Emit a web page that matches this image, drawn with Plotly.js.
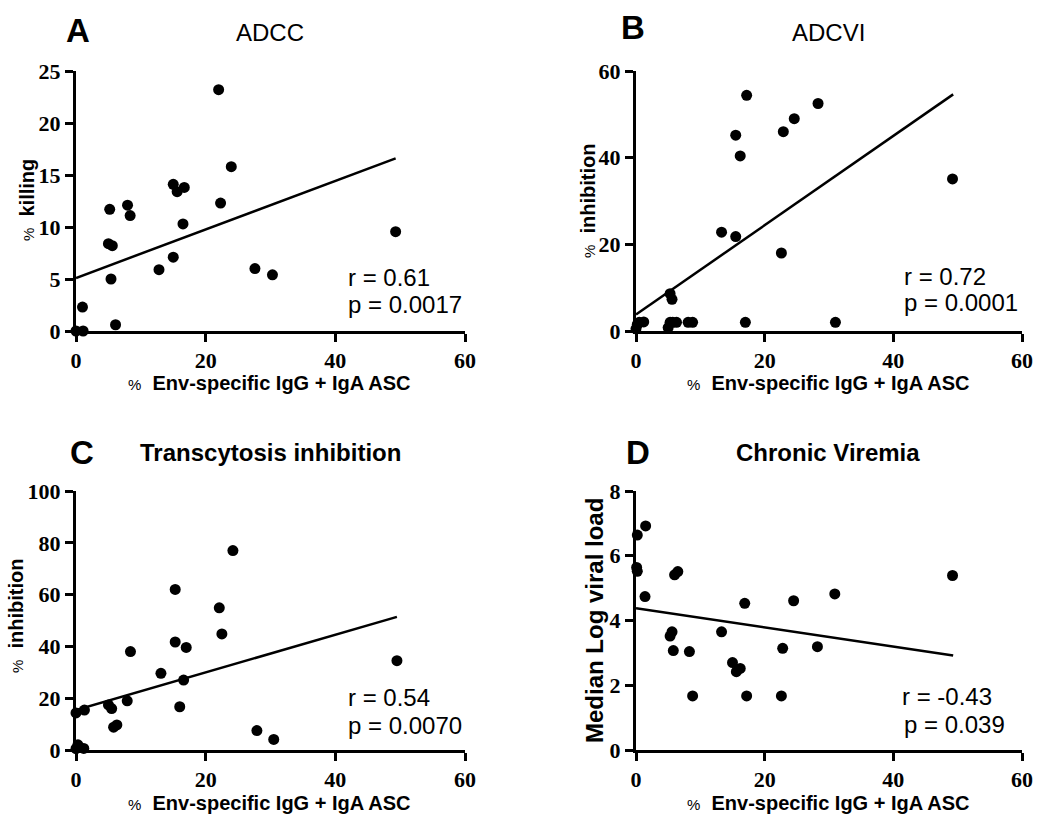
<!DOCTYPE html>
<html>
<head>
<meta charset="utf-8">
<script src="https://cdn.plot.ly/plotly-3.0.1.min.js"></script>
<style>html,body{margin:0;padding:0;background:#fff;}#chart{width:1050px;height:825px;}</style>
</head>
<body>
<div id="chart"></div>
<script>
// ---- Data ----
const adccX = [0, 1.1, 1.0, 5.0, 5.6, 5.4, 5.2, 6.1, 7.95, 8.35, 12.8, 15.0, 15.0, 15.6, 16.7, 16.5, 22.0, 22.3, 23.95, 27.6, 30.3, 49.3];
const adccY = [0, 0, 2.3, 8.4, 8.2, 5.0, 11.7, 0.6, 12.1, 11.1, 5.9, 7.1, 14.1, 13.4, 13.8, 10.3, 23.2, 12.3, 15.8, 6.0, 5.4, 9.55];
const adccFitX = [0, 49.3];
const adccFitY = [5.1, 16.6];

const adcviX = [0, 0.2, 0.5, 1.2, 5.0, 5.3, 5.7, 6.3, 8.1, 8.8, 17.0, 31.0, 5.3, 5.6, 13.3, 15.5, 22.6, 16.2, 15.5, 22.9, 24.6, 28.3, 17.2, 49.2];
const adcviY = [0.5, 1.5, 2.0, 2.1, 0.8, 2.0, 2.0, 2.0, 2.0, 2.0, 2.0, 2.0, 8.6, 7.3, 22.8, 21.8, 18.0, 40.4, 45.2, 46.0, 49.0, 52.5, 54.4, 35.1];
const adcviFitX = [0, 49.3];
const adcviFitY = [3.8, 54.6];

const transX = [0, 0.3, 1.3, 0, 1.2, 5.0, 5.5, 5.8, 6.3, 7.9, 8.4, 13.1, 15.3, 15.3, 16.0, 16.6, 17.0, 22.1, 22.5, 24.2, 27.9, 30.5, 49.5];
const transY = [14.3, 2.0, 15.4, 0.5, 0.6, 17.4, 16.0, 8.8, 9.7, 19.0, 38.0, 29.6, 41.7, 62.0, 16.7, 27.0, 39.6, 54.9, 44.8, 77.0, 7.5, 4.1, 34.5];
const transFitX = [0, 49.5];
const transFitY = [15.4, 51.4];

const viremiaX = [0.2, 1.5, 0.1, 0.2, 6.0, 6.5, 1.4, 16.9, 24.5, 30.9, 5.6, 5.3, 13.3, 5.8, 8.3, 22.8, 28.2, 15.0, 15.6, 16.2, 8.8, 17.2, 22.6, 49.2];
const viremiaY = [6.64, 6.92, 5.64, 5.52, 5.41, 5.51, 4.74, 4.53, 4.61, 4.82, 3.65, 3.52, 3.65, 3.07, 3.04, 3.14, 3.19, 2.70, 2.42, 2.52, 1.67, 1.67, 1.67, 5.39];
const viremiaFitX = [0, 49.3];
const viremiaFitY = [4.38, 2.92];

const panelLetters = ["A", "B", "C", "D"];
const panelTitles = ["ADCC", "ADCVI", "Transcytosis inhibition", "Chronic Viremia"];
const rTexts = ["r = 0.61", "r = 0.72", "r = 0.54", "r = -0.43"];
const pTexts = ["p = 0.0017", "p = 0.0001", "p = 0.0070", "p = 0.039"];
const yTitles = ["killing", "inhibition", "inhibition", "Median Log viral load"];
const xTitle = "Env-specific IgG + IgA ASC";

// ---- Layout helpers (pixel -> paper) ----
const W = 1050, H = 825;
const px = v => v / W;
const py = v => 1 - v / H;

const sets = [
  {x: adccX, y: adccY, fx: adccFitX, fy: adccFitY},
  {x: adcviX, y: adcviY, fx: adcviFitX, fy: adcviFitY},
  {x: transX, y: transY, fx: transFitX, fy: transFitY},
  {x: viremiaX, y: viremiaY, fx: viremiaFitX, fy: viremiaFitY}
];
const xDom = [[px(76), px(465)], [px(636), px(1022)], [px(76), px(465)], [px(636), px(1022)]];
const yDom = [[py(331), py(71)], [py(331), py(71)], [py(750), py(491)], [py(750), py(491)]];
const yRanges = [[0, 25], [0, 60], [0, 100], [0, 8]];
const yDticks = [5, 20, 20, 2];

const traces = [];
sets.forEach((s, i) => {
  const xa = i === 0 ? 'x' : 'x' + (i + 1);
  const ya = i === 0 ? 'y' : 'y' + (i + 1);
  traces.push({x: s.fx, y: s.fy, xaxis: xa, yaxis: ya, type: 'scatter', mode: 'lines',
    line: {color: '#000', width: 2.5}, hoverinfo: 'skip', cliponaxis: false});
  traces.push({x: s.x, y: s.y, xaxis: xa, yaxis: ya, type: 'scatter', mode: 'markers',
    marker: {color: '#000', size: 11, symbol: 'circle'}, cliponaxis: false});
});

const layout = {
  width: W, height: H, margin: {l: 0, r: 0, t: 0, b: 0},
  paper_bgcolor: '#fff', plot_bgcolor: '#fff', showlegend: false,
  font: {family: 'Liberation Sans, Arial, sans-serif', color: '#000'},
  annotations: []
};

const axisCommon = {
  showline: true, linecolor: '#000', linewidth: 3, ticks: 'outside', ticklen: 8, tickwidth: 3,
  tickcolor: '#000', showgrid: false, zeroline: false, mirror: false, fixedrange: true,
  tickfont: {family: 'Liberation Serif, Times New Roman, serif', size: 22, weight: 'bold', color: '#000'}
};

for (let i = 0; i < 4; i++) {
  const sfx = i === 0 ? '' : String(i + 1);
  layout['xaxis' + sfx] = Object.assign({}, axisCommon, {
    domain: xDom[i], anchor: 'y' + sfx, range: [0, 60], tick0: 0, dtick: 20
  });
  layout['yaxis' + sfx] = Object.assign({}, axisCommon, {
    domain: yDom[i], anchor: 'x' + sfx, range: yRanges[i], tick0: 0, dtick: yDticks[i]
  });
}

// panel letters, titles
const letterPos = [[78, 30], [633, 28], [82, 452], [638, 452]];
const titlePos = [[270, 32], [828, 32], [270, 452], [828, 452]];
const titleBold = [false, false, true, true];
const rPos = [[346, 278], [902, 277], [346, 697], [900, 696]];
const pPos = [[346, 305], [902, 303], [346, 725], [902, 724]];
const yTitlePos = [[27, 200], [588, 201], [16, 616], [594, 621]];
const xTitlePos = [[269, 383], [828, 383], [269, 803], [828, 803]];

for (let i = 0; i < 4; i++) {
  layout.annotations.push({xref: 'paper', yref: 'paper', x: px(letterPos[i][0]), y: py(letterPos[i][1]),
    text: '<b>' + panelLetters[i] + '</b>', showarrow: false, xanchor: 'center', yanchor: 'middle',
    font: {size: 33, color: '#000'}});
  layout.annotations.push({xref: 'paper', yref: 'paper', x: px(titlePos[i][0]), y: py(titlePos[i][1]),
    text: titleBold[i] ? '<b>' + panelTitles[i] + '</b>' : panelTitles[i], showarrow: false,
    xanchor: 'center', yanchor: 'middle', font: {size: 24, color: '#000'}});
  layout.annotations.push({xref: 'paper', yref: 'paper', x: px(rPos[i][0]), y: py(rPos[i][1]),
    text: rTexts[i], showarrow: false, xanchor: 'left', yanchor: 'middle', font: {size: 24, color: '#000'}});
  layout.annotations.push({xref: 'paper', yref: 'paper', x: px(pPos[i][0]), y: py(pPos[i][1]),
    text: pTexts[i], showarrow: false, xanchor: 'left', yanchor: 'middle', font: {size: 24, color: '#000'}});
  const yt = i === 3 ? '<b>' + yTitles[i] + '</b>'
    : '<span style="font-size:15px">%</span>  <b>' + yTitles[i] + '</b>';
  layout.annotations.push({xref: 'paper', yref: 'paper', x: px(yTitlePos[i][0]), y: py(yTitlePos[i][1]),
    text: yt, textangle: -90, showarrow: false, xanchor: 'center', yanchor: 'middle',
    font: {size: i === 3 ? 24 : 20, color: '#000'}});
  layout.annotations.push({xref: 'paper', yref: 'paper', x: px(xTitlePos[i][0]), y: py(xTitlePos[i][1]),
    text: '<span style="font-size:15px">%</span>  <b>' + xTitle + '</b>', showarrow: false,
    xanchor: 'center', yanchor: 'middle', font: {size: 20, color: '#000'}});
}

Plotly.newPlot('chart', traces, layout, {displayModeBar: false, staticPlot: true});
</script>
</body>
</html>
